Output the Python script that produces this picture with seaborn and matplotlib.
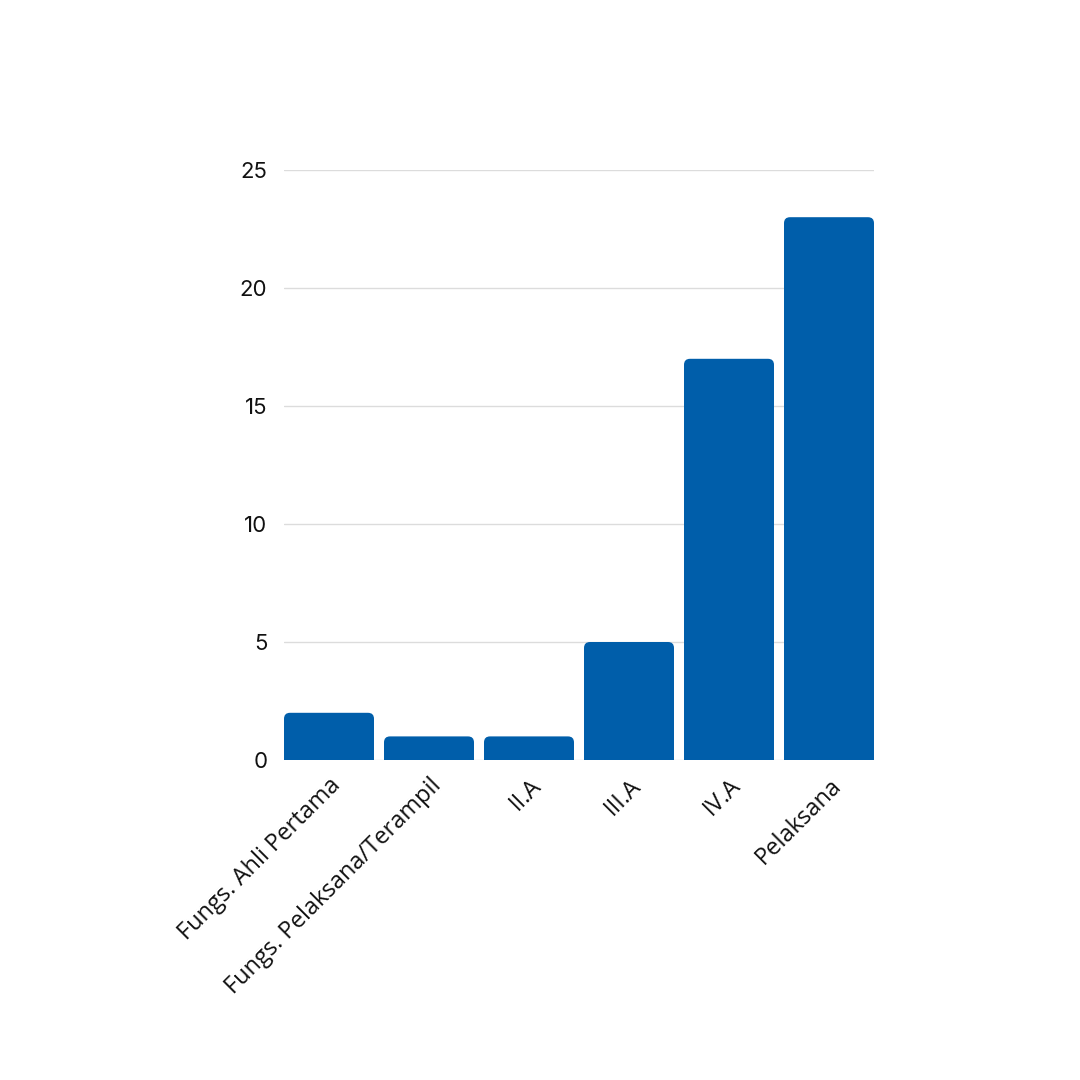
import matplotlib
matplotlib.use("Agg")
import matplotlib.pyplot as plt
import seaborn as sns
import pandas as pd
from matplotlib.patches import FancyBboxPatch

categories = ["Fungs. Ahli Pertama", "Fungs. Pelaksana/Terampil", "II.A", "III.A", "IV.A", "Pelaksana"]
values = [2, 1, 1, 5, 17, 23]
yticks = [0, 5, 10, 15, 20, 25]

sns.set_theme(style="white")
plt.rcParams['font.family'] = ['Open Sans', 'DejaVu Sans']

df = pd.DataFrame({"cat": categories, "val": values})

fig = plt.figure(figsize=(10.8, 10.8), dpi=100)
ax = fig.add_axes([284/1080, 1 - 760/1080, 590/1080, 590/1080])
sns.barplot(data=df, x="cat", y="val", color="#005EAA", saturation=1, width=0.9, ax=ax)

ax.set_xlim(-0.45, len(categories) - 0.55)
ax.set_ylim(0, 25)

# rounded tops
fig.canvas.draw()
x_per_px = (ax.get_xlim()[1] - ax.get_xlim()[0]) / (590)
y_per_px = (ax.get_ylim()[1] - ax.get_ylim()[0]) / (590)
r_px = 6
for p in list(ax.patches):
    x, w, h = p.get_x(), p.get_width(), p.get_height()
    p.set_visible(False)
    ext = r_px * y_per_px * 1.5
    fb = FancyBboxPatch((x, -ext), w, h + ext,
                        boxstyle=f"round,pad=0,rounding_size={r_px * x_per_px}",
                        mutation_aspect=y_per_px / x_per_px,
                        facecolor="#005EAA", edgecolor="none", zorder=3)
    ax.add_patch(fb)

ax.set_yticks(yticks)
ax.yaxis.grid(True, color="#dcdcdc", linewidth=1)
ax.set_axisbelow(True)
for s in ax.spines.values():
    s.set_visible(False)
ax.set_xlabel("")
ax.set_ylabel("")
ax.tick_params(axis="y", length=0, pad=12, labelsize=16, labelcolor="#111111")
ax.tick_params(axis="x", length=0, pad=10, labelsize=17, labelcolor="#111111")
for lab in ax.get_yticklabels():
    lab.set_fontfamily(['Inter', 'DejaVu Sans'])
for lab in ax.get_xticklabels():
    lab.set_rotation(45)
    lab.set_ha("right")
    lab.set_rotation_mode("anchor")

fig.savefig("out.png", dpi=100, facecolor="white")
